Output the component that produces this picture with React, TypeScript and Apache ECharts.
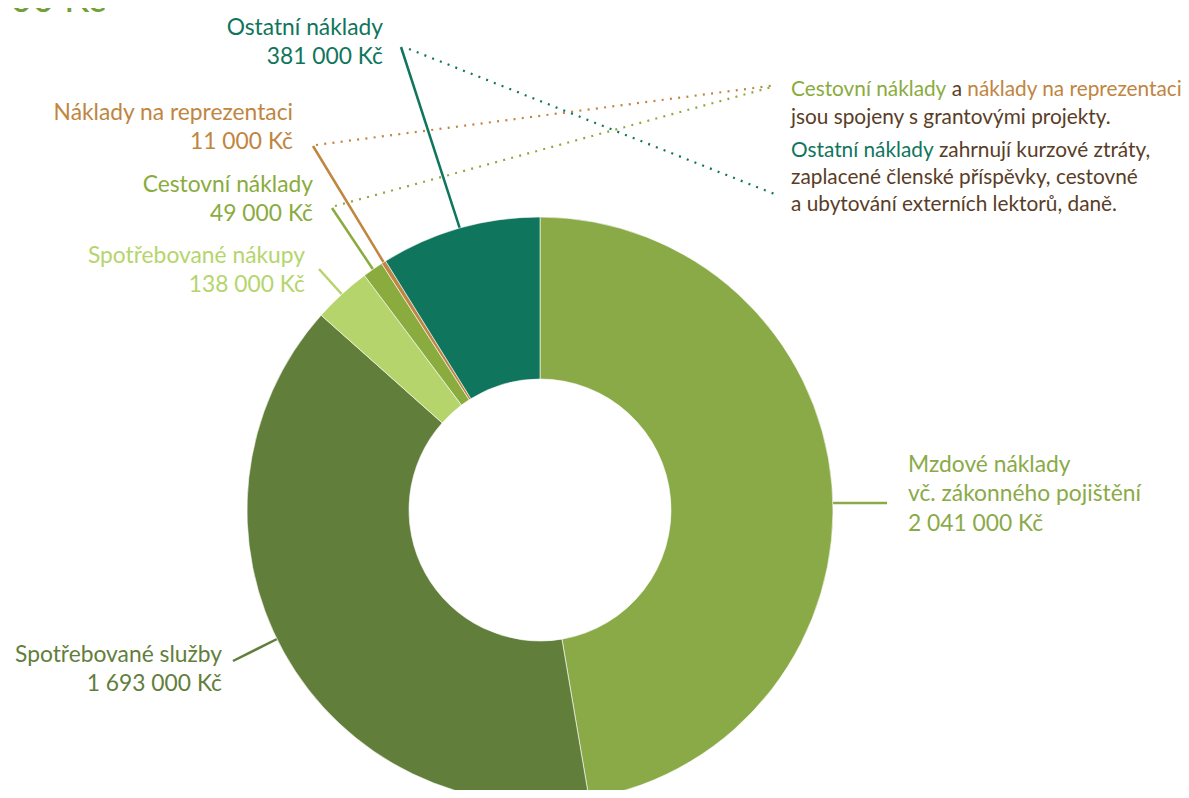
import React, { useEffect, useRef } from "react";
import * as echarts from "echarts";

const categories = [
  "Mzdové náklady vč. zákonného pojištění",
  "Spotřebované služby",
  "Spotřebované nákupy",
  "Cestovní náklady",
  "Náklady na reprezentaci",
  "Ostatní náklady",
];
const labelNames = [
  "Mzdové náklady\nvč. zákonného pojištění",
  "Spotřebované služby",
  "Spotřebované nákupy",
  "Cestovní náklady",
  "Náklady na reprezentaci",
  "Ostatní náklady",
];
const values = [2041000, 1693000, 138000, 49000, 11000, 381000];
const totalTitle = "4 313 000 Kč";

const sliceColors = ["#8aaa48", "#627e3b", "#b5d56c", "#8aab3e", "#c0853f", "#10755d"];
const FONT = "Lato";
const LABEL_SIZE = 22.8;
const NOTE_SIZE = 20.8;

const fmt = (v: number) => {
  const s = String(v);
  return s.replace(/\B(?=(\d{3})+(?!\d))/g, " ") + " Kč";
};

// label layout: x, y (top), align, label line points (outer end)
const labelPlace: any[] = [
  { x: 908, y: 448, align: "left", pts: [[833, 503], [887, 503]] },
  { x: 222, y: 638, align: "right", pts: [[277, 639], [233, 661]] },
  { x: 305, y: 239, align: "right", end: [319, 269] },
  { x: 313, y: 168, align: "right", end: [332, 208] },
  { x: 293, y: 96, align: "right", end: [313, 146] },
  { x: 383, y: 11, align: "right", end: [401, 47] },
];

export default function App() {
  const ref = useRef<HTMLDivElement>(null);
  useEffect(() => {
    if (!ref.current) return;
    const chart = echarts.init(ref.current, undefined, { renderer: "svg" });
    const data = categories.map((c, i) => ({
      name: c,
      value: values[i],
      itemStyle: { color: sliceColors[i] },
      label: {
        formatter: () => labelNames[i] + "\n" + fmt(values[i]),
        color: sliceColors[i],
      },
      labelLine: { lineStyle: { color: sliceColors[i] } },
    }));
    chart.setOption({
      animation: false,
      series: [
        {
          type: "pie",
          center: [540, 510],
          radius: [131, 293],
          startAngle: 90,
          clockwise: true,
          avoidLabelOverlap: false,
          silent: true,
          itemStyle: { borderColor: "#ffffff", borderWidth: 0.6 },
          label: {
            show: true,
            position: "outside",
            fontFamily: FONT,
            fontSize: LABEL_SIZE,
            lineHeight: 29.5,
          },
          labelLine: { show: true, length: 10, length2: 10, lineStyle: { width: 2.5 } },
          labelLayout: (params: any) => {
            const p = labelPlace[params.dataIndex];
            let pts = p.pts;
            if (!pts) {
              const start =
                params.labelLinePoints && params.labelLinePoints[0]
                  ? params.labelLinePoints[0]
                  : p.end;
              pts = [start, p.end];
            }
            return {
              x: p.x,
              y: p.y,
              align: p.align,
              verticalAlign: "top",
              labelLinePoints: pts,
            };
          },
          data,
        },
      ],
      graphic: [
        {
          type: "text",
          x: 106,
          y: -3,
          style: {
            text: totalTitle,
            fontFamily: FONT,
            fontSize: 38,
            fill: "#74a03a",
            align: "right",
            verticalAlign: "middle",
          },
        },
        {
          type: "line",
          shape: { x1: 316, y1: 145, x2: 777, y2: 85 },
          style: { stroke: "#c0853f", lineWidth: 2.2, lineDash: [2, 6.3] },
        },
        {
          type: "line",
          shape: { x1: 335, y1: 206, x2: 772, y2: 87 },
          style: { stroke: "#8aab3e", lineWidth: 2.2, lineDash: [2, 6.3] },
        },
        {
          type: "line",
          shape: { x1: 409, y1: 49, x2: 777, y2: 195 },
          style: { stroke: "#10755d", lineWidth: 2.2, lineDash: [2, 6.3] },
        },
        {
          type: "text",
          x: 791,
          y: 73,
          style: {
            text:
              "{g|Cestovní náklady} {b|a} {o|náklady na reprezentaci}\n{b|jsou spojeny s grantovými projekty.}",
            fontFamily: FONT,
            fontSize: NOTE_SIZE,
            lineHeight: 28,
            verticalAlign: "top",
            rich: {
              g: { fill: "#8aab3e", fontFamily: FONT, fontSize: NOTE_SIZE, lineHeight: 28 },
              o: { fill: "#c0853f", fontFamily: FONT, fontSize: NOTE_SIZE, lineHeight: 28 },
              b: { fill: "#5a3d27", fontFamily: FONT, fontSize: NOTE_SIZE, lineHeight: 28 },
            },
          },
        },
        {
          type: "text",
          x: 791,
          y: 135,
          style: {
            text:
              "{t|Ostatní náklady} {b|zahrnují kurzové ztráty,}\n{b|zaplacené členské příspěvky, cestovné}\n{b|a ubytování externích lektorů, daně.}",
            fontFamily: FONT,
            fontSize: NOTE_SIZE,
            lineHeight: 27,
            verticalAlign: "top",
            rich: {
              t: { fill: "#10755d", fontFamily: FONT, fontSize: NOTE_SIZE, lineHeight: 27 },
              b: { fill: "#5a3d27", fontFamily: FONT, fontSize: NOTE_SIZE, lineHeight: 27 },
            },
          },
        },
      ],
    });
    return () => chart.dispose();
  }, []);
  return <div ref={ref} style={{ width: 1189, height: 798, margin: -8 }} />;
}
